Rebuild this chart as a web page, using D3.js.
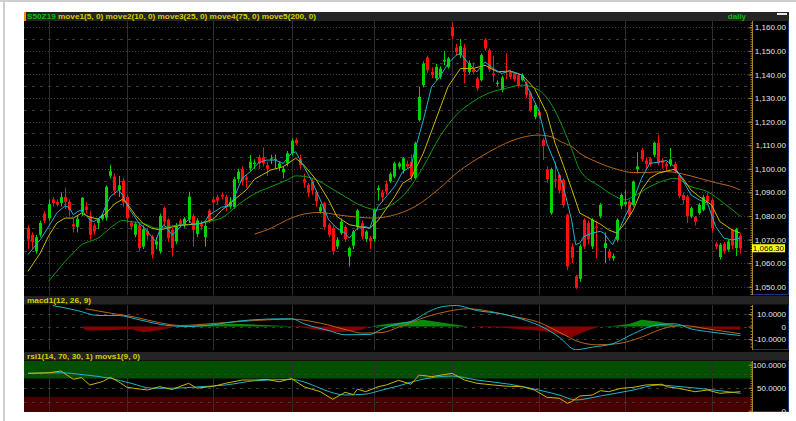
<!DOCTYPE html>
<html>
<head>
<meta charset="utf-8">
<script src="https://cdn.jsdelivr.net/npm/d3@7/dist/d3.min.js"></script>
<style>
    body { margin: 0; background: #fff; }
    svg { display: block; font-family: "Liberation Sans", Arial, sans-serif; }
</style>
</head>
<body>
<svg id="chart" width="796" height="421"></svg>
<script>

// daily candles, S50Z19, index 0..173
var opens = [1075,1072,1065,1072,1081,1079,1087,1086,1085.5,1088,
    1086,1076.5,1075.4,1081.7,1084,1080,1076,1077,1078.8,1079.2,
    1097,1096.7,1091,1095,1088,1077.2,1072,1076,1067,1073.6,
    1071.3,1067.8,1065,1083.4,1078.4,1074.1,1069.2,1078,1076,1078.4,
    1080,1072.4,1076.5,1071,1082.3,1087,1088,1089,1088,1084,
    1083.7,1095.6,1099.8,1096.4,1100.2,1102,1104.9,1104.9,1101.5,1104,
    1104,1100.6,1098.5,1102.3,1106.6,1112.2,1104,1095.6,1093.2,1094.6,
    1090.3,1081.9,1085.4,1076.3,1074.8,1067.1,1072.7,1075.3,1062.8,1067.4,
    1075.5,1076.9,1070.2,1070.6,1070.2,1091,1090,1093.6,1094.6,1096.7,
    1100.9,1099.5,1102,1103,1096,1120.7,1135.5,1147.2,1141.1,1138.3,
    1139,1145.5,1143.2,1160.1,1151.4,1148.2,1151.4,1141.1,1142,1138.3,
    1137.6,1154.8,1150.3,1140.4,1136,1133.4,1143.3,1141.1,1140.4,1139.7,
    1137.6,1136.2,1132.2,1122,1124,1112.2,1099.8,1081.2,1095.5,1097.4,
    1095.3,1080.5,1067,1054.4,1053.3,1078.4,1077,1067.1,1075.5,1079.8,
    1066.4,1065,1062,1069.9,1084.3,1085,1086.1,1084.7,1099.8,1108,
    1103.5,1104.4,1105.9,1111,1103.5,1102,1102,1102,1097.4,1088.9,
    1088.2,1079.8,1079.5,1081.2,1082.6,1088.5,1086.8,1068.2,1062.6,1068.2,
    1065.7,1074.1,1066.4,1071.6];
var highs = [1076,1073,1072,1078,1082,1087,1088,1087,1090,1092,
    1087,1079,1080,1088,1086,1082,1077,1079,1081,1093,
    1101.6,1098,1097,1096,1089,1078,1077.5,1077,1076,1075,
    1072,1071,1081,1084,1079,1075,1077,1079,1079.5,1090.3,
    1081,1079,1078,1077,1083,1088,1089,1090,1089,1088,
    1096.5,1100,1101,1097.5,1105.9,1104,1106,1109,1103,1106,
    1106,1103,1101,1107.5,1112.9,1113,1106,1098,1094,1096,
    1091,1085,1086,1077,1076,1071,1079,1076,1067,1074,
    1083,1078,1074,1071.5,1083.5,1093,1091,1095,1098.5,1103,
    1103,1105,1103.5,1106,1111.5,1134.8,1145.5,1148,1143,1144.5,
    1143.5,1150,1147.5,1161.8,1153,1155,1153,1146,1145,1139,
    1149,1155.5,1151,1148,1137.5,1139.5,1149,1142,1141,1140.5,
    1140.5,1137,1133,1128,1125,1113,1101,1100.5,1103,1098,
    1096,1081,1068.5,1055,1068,1079,1078,1079,1078,1085.5,
    1073,1066,1064,1079,1089.5,1091,1087,1095,1107,1109,
    1105,1105,1111.5,1114.3,1104.5,1103,1108.8,1103,1098,1090,
    1089,1084,1080,1085.5,1089,1090,1087.5,1069,1068.5,1069,
    1070,1074.5,1075,1072.5];
var lows = [1066,1066,1064,1071,1077,1078,1084,1084,1084,1083,
    1080,1073,1073,1080,1081,1070,1072,1074.5,1078,1078,
    1096,1089,1088,1084,1077,1074,1071,1065,1066,1070,
    1062,1066,1064,1076,1069,1062.8,1068,1075,1075,1077,
    1067,1071,1074,1067,1077,1082,1085,1087,1082,1083,
    1083,1094,1093,1092,1099,1100,1100,1101,1097,1102,
    1100,1099,1096,1101,1105.5,1110,1100,1092,1088,1089,
    1084,1081,1074,1071,1063.5,1066,1072,1069,1058.6,1066,
    1074,1070,1069,1066,1069,1086.5,1086,1089,1094,1096,
    1100,1098,1100,1095,1095.5,1120,1134.5,1140.5,1138.5,1137.5,
    1138,1144,1142.5,1155,1148,1147,1136.2,1140,1140,1133,
    1137,1150,1141,1137,1135,1132.5,1138,1138,1137,1134.5,
    1137,1130,1124,1121,1121.5,1103.7,1094,1080.5,1092,1089.5,
    1083.5,1057,1060,1049,1052,1066,1068,1066,1062,1079,
    1060,1061,1061,1069,1083,1084,1079.5,1084,1098,1103,
    1100,1101,1105,1101.5,1100,1099,1101,1098,1087.5,1085,
    1077,1079,1076,1080.5,1082,1085.5,1073,1066,1061.5,1064,
    1065,1066,1063,1064];
var closes = [1070,1069,1071,1077,1078,1085,1085.5,1085,1088,1086,
    1082.5,1075.5,1078.8,1087.7,1082.6,1072,1073.4,1078.8,1080.5,1092.4,
    1099,1090.8,1093,1085.7,1079,1075.5,1076.7,1066.4,1074.4,1072,
    1063.6,1069.2,1080,1077.6,1070.6,1066.4,1075.5,1076,1078.8,1088.2,
    1074,1078.1,1075.5,1075.8,1078.4,1085.7,1086.5,1088.2,1083.7,1086,
    1095.6,1098.8,1094.6,1095.3,1103,1102.6,1102.3,1102.3,1100,1104.4,
    1104.2,1102.3,1100,1106.6,1111.9,1110.8,1101.6,1094.1,1089.9,1090.8,
    1086.1,1083.7,1075.3,1072,1065,1069.9,1077.6,1070.2,1066.4,1073.4,
    1082.3,1071.3,1073.4,1069.2,1082.9,1091.8,1088,1090.3,1097.8,1102.3,
    1102.3,1104.5,1101,1096.7,1110.8,1130.5,1144.6,1141.8,1139.7,1143.2,
    1142.5,1146.2,1146.8,1156.2,1149.6,1152,1141.1,1144.9,1141,1134.1,
    1148.2,1151,1142.1,1139.7,1136.5,1138.7,1143,1139,1137.9,1135.5,
    1139.7,1131.2,1124.9,1127,1122.5,1109.7,1095.6,1099.8,1095,1090.8,
    1084.7,1058.6,1062.2,1049.5,1067.1,1067.1,1070,1078.4,1075,1084.7,
    1068.5,1062.2,1063,1078.4,1088.9,1086,1080.5,1094.6,1101,1104,
    1102,1102,1111,1102.3,1102.6,1101,1104,1099,1088.5,1086.8,
    1079.8,1083.3,1077.6,1084.7,1088,1086.1,1074.8,1067,1067.8,1065,
    1069.2,1067.4,1074.4,1066.3];
var lastPrice = 1066.30;

// moving averages: [candle index], [value]
var ma5Idx = [0,3,5,7,9,10,11,12,13,14,15,16,17,18,19,20,21,22,23,24,25,26,27,28,29,30,31,32,33,34,35,36,37,38,39,40,41,42,43,44,45,47,49,50,52,54,56,58,60,62,64,65,67,69,71,73,75,77,78,80,82,83,84,85,87,89,91,93,94,96,98,100,102,104,105,107,109,111,113,115,117,119,120,122,124,126,128,130,132,133,134,135,137,139,140,141,142,143,145,147,149,151,153,155,157,159,161,163,165,167,169,171,173];
var ma5 = [1063.6,1070,1075.5,1081.3,1084.3,1083.6,1080.5,1081.8,1082.6,1080.5,1078.4,1077.6,1078.7,1080.5,1084.7,1088.2,1089.6,1091,1088.9,1084.7,1081.9,1079.5,1076.7,1075.5,1073.4,1071.3,1069.2,1074.1,1076.3,1074.1,1072,1073.4,1075.5,1076.9,1078.4,1076.3,1076.3,1077,1077.6,1080.5,1081.5,1083.7,1084.3,1087.5,1096,1098.8,1102.6,1103.7,1103.7,1102.3,1106.6,1107.2,1100.9,1094.6,1086.8,1078.4,1074.8,1072.7,1070.6,1074.8,1075.5,1074.8,1079.8,1084,1088.2,1092.4,1098.8,1100.9,1108,1120.7,1134.8,1139,1144.6,1148.2,1148.9,1144.6,1141.1,1145.3,1142.5,1140.4,1141.5,1140.4,1139.7,1132,1124.9,1110.8,1102.3,1092.4,1078.4,1067.8,1068.5,1071.3,1072.7,1073.5,1072.5,1069.9,1067.8,1072,1079.8,1086.8,1096,1102.3,1102.8,1103.5,1100.9,1095.3,1088.9,1086.8,1085.4,1075.5,1070.6,1069.8,1070.6];
var ma10Idx = [0,3,5,7,9,11,13,15,17,19,21,23,24,26,28,30,32,35,37,39,42,45,47,51,53,55,59,62,65,67,70,73,75,78,81,83,85,87,89,91,93,96,99,102,105,108,111,114,117,120,123,126,128,130,132,134,137,139,141,143,145,147,149,151,153,155,157,159,161,163,166,168,171,173];
var ma10 = [1056.5,1064.3,1071.5,1077,1079.1,1079.1,1081.2,1079.5,1078.7,1081.2,1085.1,1087.1,1085.4,1080.5,1076.7,1074.8,1074.1,1075.3,1076,1076.3,1076.8,1078.7,1082.3,1088.2,1091,1095.6,1099.5,1100.9,1104.5,1101.6,1095.3,1086.8,1079.8,1076.3,1075.3,1074.8,1078,1083,1088,1093.9,1096,1106.6,1120.7,1134.8,1142.5,1142.5,1143.9,1141.1,1141.5,1139.7,1134.1,1123.5,1110.8,1101.5,1091.5,1081.2,1078.4,1076.5,1074.1,1072.7,1077,1082.6,1091,1096,1098.1,1099,1099.8,1096,1091,1088.2,1084.7,1077.6,1074.1,1072.7];
var ma25Idx = [5,7,9,11,13,15,17,19,21,23,25,27,29,31,34,37,40,43,45,47,51,55,59,63,65,67,70,73,77,81,85,88,92,96,100,104,108,112,116,120,124,127,130,132,134,139,142,145,147,151,155,157,161,165,169,173];
var ma25 = [1052.3,1056.5,1060.7,1064.3,1067.8,1069.2,1070.6,1073.4,1076.3,1078.1,1077.6,1077.2,1076.3,1074.8,1075.5,1076.3,1076.5,1077.2,1078.1,1079.1,1084.7,1089.4,1092.4,1095.3,1097,1096.8,1095.3,1092.4,1088.2,1084.3,1082.6,1084.5,1090.3,1100.9,1113.6,1122.8,1128.4,1132.2,1134.1,1135.5,1133.4,1127.7,1117,1108.5,1099.5,1092.4,1088.9,1086.8,1088.2,1092.4,1095.3,1096,1092.4,1090.3,1085.4,1079.8];
var ma75Idx = [55,59,63,67,71,75,80,84,88,94,100,104,108,112,116,120,124,127,130,132,134,138,143,147,151,155,159,163,167,171,173];
var ma75 = [1072.3,1074.8,1078.4,1080.8,1081.5,1080.5,1079.5,1079.1,1080,1084,1091.8,1098.1,1103,1107.2,1110.8,1113.3,1114.3,1113.6,1111,1109.5,1106.6,1103,1099.8,1098.4,1098.5,1098.8,1097.8,1096,1094.1,1092.4,1091];

// macd1(12, 26, 9)
var macdIdx = [6,12,17,22,27,34,39,45,51,58,64,67,73,77,83,86,90,93,97,100,104,109,115,121,125,129,133,137,142,147,152,157,161,166,173];
var macdLine = [16.8,12.8,8.8,8.8,5.4,0.8,0,1.4,4.3,5.9,6.2,2.2,-3.2,-6.6,-6.4,-1.9,2.2,4,11.4,15.4,16.8,12.8,10.1,4.8,-0.5,-8.5,-18.6,-16.5,-13.8,-5.8,0.8,2.2,-1.9,-4.5,-7.2];
var signalIdx = [14,20,26,32,37,45,55,64,71,78,81,86,90,97,102,107,112,118,124,129,134,138,143,149,154,159,165,173];
var signalLine = [14.2,10.7,7.5,3,0.8,2.4,4.8,5.9,2.7,-3.2,-5.3,-4.8,-0.5,8,12.2,14.2,12.2,8,3.4,-4.5,-12.5,-14.6,-13.8,-8.5,-1.9,0.8,-1.9,-5.8];
var histIdx = [13,14,16,20,25,28,32,36,42,50,56,64,66,71,76,81,83,87,90,96,100,107,115,122,127,132,136,139,142,146,149,153,159,163,173];
var histValues = [0,-3,-3.2,-3,-2,-4.5,-3,0,1.5,2.2,1.5,0.3,-0.5,-3,-4.5,-2.5,0,2,3,5.4,3.5,0,-1,-2.5,-4.5,-8.5,-3,0,0.5,2,5.4,4,0,-1.5,-2.4];

// rsi1(14, 70, 30, 1) movs1(9, 0)
var rsiIdx = [0,5,8,11,13,15,18,20,22,24,27,29,32,35,37,39,41,45,48,52,55,58,61,64,67,71,74,77,79,80,82,85,87,90,93,95,98,103,106,109,113,116,120,123,126,129,131,132,134,137,139,141,144,147,150,154,155,158,162,165,168,173];
var rsiValues = [81.3,82.4,86.3,68.3,72,55.9,63,72.6,63,51,47.2,45,52.2,46,53,59.6,49,53,59.6,66.7,66.7,68,63,70,52,41.3,24.8,40,35,47,41.3,52,55.9,66,57.5,77.6,74,81.3,66.7,59.6,55.9,53.4,52.2,45,29.1,27,16.1,19.7,32,34,43.5,41.3,48.5,50.8,55.9,57.5,52.2,48.5,41.3,45,37.8,41.3];
var movsIdx = [0,8,14,20,25,30,35,42,48,55,64,68,72,77,82,86,90,95,103,109,117,124,129,133,139,147,153,157,163,168,173];
var movsValues = [81.3,82.4,77.6,70.4,59.6,49,49,52.2,55.9,65,68,59.6,45,34.1,36.2,45,54,66.7,75.4,66.7,57.5,45,34,23.3,32,45,55.9,53.4,48.5,43.5,37.8];

// axis ticks and monthly grid
var priceTicks = d3.range(1050, 1161, 10);
var priceGrid = d3.range(1050, 1161, 5);
var macdTicks = [10, 0, -10];
var rsiTicks = [100, 50, 0];
var rsiGrid = [80, 50, 20];
var monthIdx = [5, 24, 45, 64, 84, 103, 124, 145, 166];


var plotLeft = 24,
    plotRight = 752,
    boxRight = 788;

var panels = {
    price: { top: 21, bottom: 295 },
    macd: { top: 305, bottom: 350 },
    rsi: { top: 361, bottom: 412 }
};

var x = d3.scaleLinear().domain([0, 173]).range([28, 740.4]),
    yPrice = d3.scaleLinear().domain([1050, 1160]).range([286.7, 27.3]),
    yMacd = d3.scaleLinear().domain([-10, 10]).range([339, 314]),
    yRsi = d3.scaleLinear().domain([0, 100]).range([410.7, 364.7]);

var colors = {
    up: '#00d400', down: '#ff1010',
    cyan: '#1fb4c8', yellow: '#c9b800', green: '#139a13', orange: '#b8651a',
    gold: '#a8842c', blue: '#1c3580', grid: '#3c3c3c', header: '#242424'
};

var svg = d3.select('#chart');

svg.append('rect').attr('width', 796).attr('height', 421).attr('fill', '#fff');
svg.append('rect').attr('width', 796).attr('height', 2).attr('fill', '#cfcfcf');
svg.append('rect').attr('x', 3).attr('width', 2).attr('height', 421).attr('fill', '#cfcfcf');
svg.append('rect').attr('x', plotLeft).attr('y', 12)
    .attr('width', boxRight + 1 - plotLeft).attr('height', 400).attr('fill', '#000');

var defs = svg.append('defs');
Object.keys(panels).forEach(function (k) {
    var p = panels[k];
    defs.append('clipPath').attr('id', 'clip-' + k)
        .append('rect')
        .attr('x', plotLeft).attr('y', p.top)
        .attr('width', plotRight - plotLeft).attr('height', p.bottom - p.top);
});


function header (y, h, parts, width) {
    svg.append('rect').attr('x', plotLeft).attr('y', y)
        .attr('width', boxRight + 1 - plotLeft).attr('height', h)
        .attr('fill', colors.header);
    var t = svg.append('text')
        .attr('x', 27).attr('y', y + h - 2)
        .attr('font-size', 8).attr('font-weight', 'bold')
        .attr('textLength', width).attr('lengthAdjust', 'spacingAndGlyphs');
    parts.forEach(function (p) {
        t.append('tspan').attr('fill', p[1]).text(p[0]);
    });
}

function monthLines (g, p) {
    g.selectAll('line.month')
        .data(monthIdx)
        .enter()
        .append('line')
        .attr('x1', function (d) { return Math.round(x(d)) + 0.5; })
        .attr('x2', function (d) { return Math.round(x(d)) + 0.5; })
        .attr('y1', p.top).attr('y2', p.bottom)
        .attr('stroke', '#2e2e2e');
}

function hGrid (g, scale, values, dash) {
    g.selectAll(null)
        .data(values)
        .enter()
        .append('line')
        .attr('x1', plotLeft).attr('x2', plotRight)
        .attr('y1', function (d) { return Math.round(scale(d)) + 0.5; })
        .attr('y2', function (d) { return Math.round(scale(d)) + 0.5; })
        .attr('stroke', colors.grid)
        .attr('stroke-dasharray', typeof dash === 'function' ? dash : function () { return dash; });
}

function axisBox (p, scale, ticks, fmt, minor) {
    var g = svg.append('g');
    g.append('rect').attr('x', plotRight).attr('y', p.top)
        .attr('width', boxRight - plotRight).attr('height', p.bottom - p.top)
        .attr('fill', '#000');
    g.append('line').attr('x1', boxRight + 0.5).attr('x2', boxRight + 0.5)
        .attr('y1', p.top).attr('y2', p.bottom).attr('stroke', colors.blue);
    g.append('line').attr('x1', plotRight).attr('x2', boxRight + 1)
        .attr('y1', p.bottom - 0.5).attr('y2', p.bottom - 0.5).attr('stroke', colors.blue);

    var minorAxis = g.append('g')
        .attr('transform', 'translate(' + (plotRight + 0.5) + ',0)')
        .call(d3.axisLeft(scale).tickValues(minor).tickSize(2).tickFormat(''));
    var majorAxis = g.append('g')
        .attr('transform', 'translate(' + (plotRight + 0.5) + ',0)')
        .call(d3.axisLeft(scale).tickValues(ticks).tickSize(4).tickFormat(''));
    [minorAxis, majorAxis].forEach(function (a) {
        a.select('.domain').remove();
        a.selectAll('line').attr('stroke', colors.gold);
    });
    g.append('line').attr('x1', plotRight + 0.5).attr('x2', plotRight + 0.5)
        .attr('y1', p.top).attr('y2', p.bottom).attr('stroke', colors.gold);

    var labels = g.append('g')
        .attr('transform', 'translate(786,0)')
        .call(d3.axisLeft(scale).tickValues(ticks).tickSize(0).tickPadding(0).tickFormat(fmt));
    labels.select('.domain').remove();
    labels.selectAll('text')
        .attr('fill', '#e6e6e6')
        .attr('font-size', 8)
        .attr('font-family', '"Liberation Sans", Arial, sans-serif');
    return g;
}

function indexLine (scale, curve) {
    return d3.line()
        .x(function (d) { return x(d[0]); })
        .y(function (d) { return scale(d[1]); })
        .curve(curve || d3.curveLinear);
}


// ---- price panel
header(12, 9, [['S50Z19 ', '#12b812'],
    ['move1(5, 0) move2(10, 0) move3(25, 0) move4(75, 0) move5(200, 0)', '#d8cc00']], 289);
svg.append('rect').attr('x', plotLeft).attr('y', 12).attr('width', 2).attr('height', 9).attr('fill', '#ff8c00');
svg.append('text').attr('x', 746).attr('y', 19).attr('text-anchor', 'end')
    .attr('font-size', 8).attr('font-weight', 'bold').attr('fill', '#12b812').text('daily');
svg.append('rect').attr('x', 777).attr('y', 13).attr('width', 10).attr('height', 2).attr('fill', '#e8e8e8');

var price = svg.append('g').attr('clip-path', 'url(#clip-price)');
monthLines(price, panels.price);
hGrid(price, yPrice, priceGrid, function (d) { return d % 10 === 0 ? '1,2' : '3,5'; });

var candles = closes.map(function (c, i) {
    return { i: i, o: opens[i], h: highs[i], l: lows[i], c: c };
});

var candle = price.selectAll('g.candle')
    .data(candles)
    .enter()
    .append('g')
    .attr('fill', function (d) { return d.c >= d.o ? colors.up : colors.down; })
    .attr('stroke', function (d) { return d.c >= d.o ? colors.up : colors.down; });

candle.append('line')
    .attr('x1', function (d) { return Math.round(x(d.i)) + 0.5; })
    .attr('x2', function (d) { return Math.round(x(d.i)) + 0.5; })
    .attr('y1', function (d) { return yPrice(d.h); })
    .attr('y2', function (d) { return yPrice(d.l); });

candle.append('rect')
    .attr('stroke', 'none')
    .attr('x', function (d) { return Math.round(x(d.i)) - 1; })
    .attr('width', 3)
    .attr('y', function (d) { return yPrice(Math.max(d.o, d.c)); })
    .attr('height', function (d) { return Math.max(1, Math.abs(yPrice(d.o) - yPrice(d.c))); });

[[ma75Idx, ma75, colors.orange, d3.curveMonotoneX],
 [ma25Idx, ma25, colors.green, d3.curveMonotoneX],
 [ma10Idx, ma10, colors.yellow],
 [ma5Idx, ma5, colors.cyan]].forEach(function (s) {
    price.append('path')
        .datum(d3.zip(s[0], s[1]))
        .attr('fill', 'none')
        .attr('stroke', s[2])
        .attr('stroke-width', 1)
        .attr('d', indexLine(yPrice, s[3]));
});

axisBox(panels.price, yPrice, priceTicks, d3.format(',.2f'), d3.range(1047, 1163, 1));

svg.append('rect').attr('x', plotRight).attr('y', yPrice(lastPrice) - 4)
    .attr('width', 33).attr('height', 8).attr('fill', '#ffff00');
svg.append('text').attr('x', 784).attr('y', yPrice(lastPrice) + 3)
    .attr('text-anchor', 'end').attr('font-size', 8).attr('fill', '#000')
    .text(d3.format(',.2f')(lastPrice));


// ---- macd panel
header(296, 8.5, [['macd1(12, 26, 9)', '#d8cc00']], 64);

var macd = svg.append('g').attr('clip-path', 'url(#clip-macd)');
monthLines(macd, panels.macd);
hGrid(macd, yMacd, macdTicks, '3,5');

var hist = d3.zip(histIdx, histValues);
macd.append('path')
    .datum(hist)
    .attr('fill', '#0a8a0a')
    .attr('d', d3.area()
        .x(function (d) { return x(d[0]); })
        .y0(yMacd(0))
        .y1(function (d) { return yMacd(Math.max(0, d[1])); }));
macd.append('path')
    .datum(hist)
    .attr('fill', '#8a0000')
    .attr('d', d3.area()
        .x(function (d) { return x(d[0]); })
        .y0(yMacd(0))
        .y1(function (d) { return yMacd(Math.min(0, d[1])); }));

macd.append('path')
    .datum(d3.zip(signalIdx, signalLine))
    .attr('fill', 'none').attr('stroke', colors.orange)
    .attr('d', indexLine(yMacd, d3.curveMonotoneX));
macd.append('path')
    .datum(d3.zip(macdIdx, macdLine))
    .attr('fill', 'none').attr('stroke', colors.cyan)
    .attr('d', indexLine(yMacd, d3.curveMonotoneX));

axisBox(panels.macd, yMacd, macdTicks, function (d) {
    return d === 0 ? '0' : d3.format('.4f')(d).replace('\u2212', '-');
}, d3.range(-16, 17, 2.5));


// ---- rsi panel
header(352, 8.5, [['rsi1(14, 70, 30, 1) movs1(9, 0)', '#d8cc00']], 113);

var rsi = svg.append('g').attr('clip-path', 'url(#clip-rsi)');
rsi.append('rect').attr('x', plotLeft).attr('y', panels.rsi.top)
    .attr('width', plotRight - plotLeft).attr('height', yRsi(70) - panels.rsi.top)
    .attr('fill', '#024f02');
rsi.append('rect').attr('x', plotLeft).attr('y', yRsi(30))
    .attr('width', plotRight - plotLeft).attr('height', panels.rsi.bottom - yRsi(30))
    .attr('fill', '#470000');
monthLines(rsi, panels.rsi);
hGrid(rsi, yRsi, rsiGrid, '3,5');

rsi.append('path')
    .datum(d3.zip(movsIdx, movsValues))
    .attr('fill', 'none').attr('stroke', colors.cyan)
    .attr('d', indexLine(yRsi, d3.curveMonotoneX));
rsi.append('path')
    .datum(d3.zip(rsiIdx, rsiValues))
    .attr('fill', 'none').attr('stroke', colors.yellow)
    .attr('d', indexLine(yRsi));

var rsiBox = axisBox(panels.rsi, yRsi, rsiTicks, function (d) {
    return d === 0 ? '0' : d3.format('.4f')(d);
}, d3.range(0, 106, 5));

</script>
</body>
</html>
